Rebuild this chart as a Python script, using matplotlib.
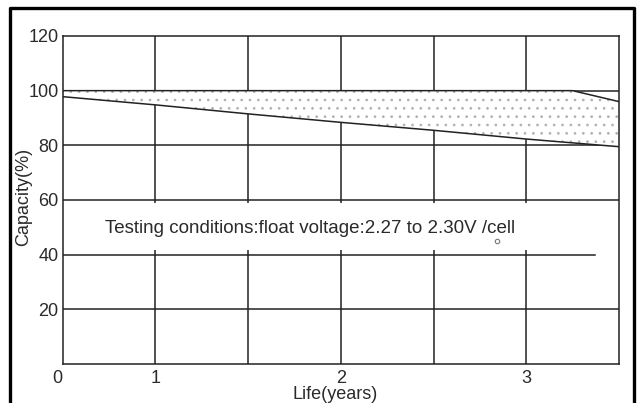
import numpy as np
import matplotlib.pyplot as plt
from matplotlib.lines import Line2D
from matplotlib.patches import Rectangle

# ============================================================
# DATA
# ============================================================
# x axis is in years; the left edge is labelled "0" but sits at 0.5
YEARS_LOWER = [0.5, 1.0, 1.5, 2.0, 2.5, 3.0, 3.5]
CAP_LOWER = [97.8, 94.8, 91.5, 88.4, 85.5, 82.3, 79.5]

YEARS_UPPER = [0.5, 3.25, 3.5]
CAP_UPPER = [100.0, 100.0, 96.0]

XTICK_POS = [0.5, 1.0, 2.0, 3.0]
XTICK_LABELS = ["0", "1", "2", "3"]
YTICKS = [20, 40, 60, 80, 100, 120]

GRID_X = [1.0, 1.5, 2.0, 2.5, 3.0]
GRID_Y = [20, 40, 60, 80, 100]
GRID_Y_END = [3.5, 3.37, 3.5, 3.5, 3.5]

NOTE = "Testing conditions:float voltage:2.27 to 2.30V /cell"

# ============================================================
# PLOT
# ============================================================
plt.rcParams['font.family'] = ['Liberation Sans', 'DejaVu Sans']
plt.rcParams['hatch.linewidth'] = 0.7
LINE_COLOR = '#222222'
TEXT_COLOR = '#2a2a2a'

fig = plt.figure(figsize=(6.44, 4.03), dpi=100)
ax = fig.add_axes([0.0974, 0.0968, 0.8637, 0.8139])
ax.set_xlim(0.5, 3.5)
ax.set_ylim(0, 120)

# grid lines drawn by hand (the 40% line stops short of the right edge)
for gx in GRID_X:
    ax.axvline(gx, color=LINE_COLOR, lw=1.1, zorder=1)
for gy, gend in zip(GRID_Y, GRID_Y_END):
    ax.plot([0.5, gend], [gy, gy], color=LINE_COLOR, lw=1.1, zorder=1)

# stippled band between the two boundaries
poly_x = list(YEARS_UPPER) + list(YEARS_LOWER[::-1])
poly_y = list(CAP_UPPER) + list(CAP_LOWER[::-1])
ax.fill(poly_x, poly_y, facecolor='white', edgecolor='#b0b0b0', lw=0,
        hatch='..', zorder=2)
ax.plot(YEARS_LOWER, CAP_LOWER, color=LINE_COLOR, lw=1.1, zorder=3)
ax.plot(YEARS_UPPER, CAP_UPPER, color=LINE_COLOR, lw=1.1, zorder=3)

# note with white background covering the grid
ax.add_patch(Rectangle((0.66, 41.7), 2.56, 17.2, facecolor='white',
                       edgecolor='none', zorder=4))
ax.text(0.728, 48, NOTE, fontsize=13.5, color=TEXT_COLOR, va='baseline',
        ha='left', zorder=5)
ax.plot([2.84], [45.0], marker='o', ms=3.2, mfc='white', mec='#777777',
        mew=0.8, zorder=5)

# axes formatting
ax.set_xticks(XTICK_POS)
ax.set_xticklabels(XTICK_LABELS)
ax.set_yticks(YTICKS)
ax.tick_params(length=0, labelsize=13, labelcolor=TEXT_COLOR)
ax.tick_params(axis='x', pad=4)
ax.tick_params(axis='y', pad=3)
ax.get_xticklabels()[0].set_horizontalalignment('right')
for spine in ax.spines.values():
    spine.set_color(LINE_COLOR)
    spine.set_linewidth(1.1)

ax.set_ylabel('Capacity(%)', fontsize=13, color=TEXT_COLOR, va='center')
ax.yaxis.set_label_coords(-0.07, 0.51)
ax.set_xlabel('Life(years)', fontsize=13, color=TEXT_COLOR, va='center')
ax.xaxis.set_label_coords(0.49, -0.093)

# outer frame around the whole picture
fig.add_artist(Line2D([0.0155, 0.0155, 0.9845, 0.9845], [0.0, 0.980, 0.980, 0.0],
                      transform=fig.transFigure, color='black', lw=2.4))

fig.savefig('out.png', dpi=100)
